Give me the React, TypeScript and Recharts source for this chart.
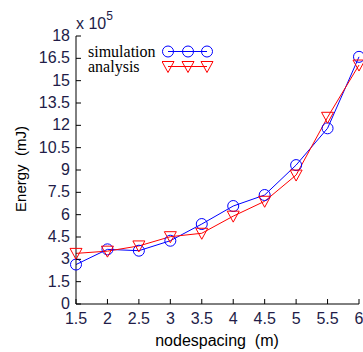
import React from 'react';
import { LineChart, Line, XAxis, YAxis } from 'recharts';

const spacing = [1.5, 2, 2.5, 3, 3.5, 4, 4.5, 5, 5.5, 6];
const simulation = [2.65, 3.67, 3.58, 4.25, 5.37, 6.58, 7.32, 9.33, 11.8, 16.6];
const analysis = [3.4, 3.55, 3.9, 4.52, 4.75, 5.9, 6.9, 8.66, 12.54, 16.05];
const xTicks = [1.5, 2, 2.5, 3, 3.5, 4, 4.5, 5, 5.5, 6];
const yTicks = [0, 1.5, 3, 4.5, 6, 7.5, 9, 10.5, 12, 13.5, 15, 16.5, 18];
const seriesNames = ['simulation', 'analysis'];

const data = spacing.map((s, i) => ({ s, simulation: simulation[i], analysis: analysis[i] }));

const TICK_COLOR = '#221c48';
const FONT = 'Arial, "Liberation Sans", sans-serif';

const Circle = (props: any) => {
  const { cx, cy } = props;
  if (cx == null || cy == null) return null;
  return <circle cx={cx} cy={cy} r={5.5} stroke="#0000ff" strokeWidth={1} fill="none" />;
};

const TriDown = (props: any) => {
  const { cx, cy } = props;
  if (cx == null || cy == null) return null;
  return (
    <path
      d={`M${cx - 6},${cy - 5}L${cx + 6},${cy - 5}L${cx},${cy + 6}Z`}
      stroke="#ff0000"
      strokeWidth={1}
      fill="none"
    />
  );
};

const BottomTick = (props: any) => {
  const { x, y, payload } = props;
  return (
    <g>
      <line x1={x} y1={y} x2={x} y2={y - 5} stroke="#000" />
      <text x={x} y={y + 20} textAnchor="middle" fontSize={16} fontFamily={FONT} fill={TICK_COLOR}>
        {payload.value}
      </text>
    </g>
  );
};

const TopTick = (props: any) => {
  const { x, y } = props;
  return <line x1={x} y1={y} x2={x} y2={y + 5} stroke="#000" />;
};

const LeftTick = (props: any) => {
  const { x, y, payload } = props;
  return (
    <g>
      <line x1={x} y1={y} x2={x + 5} y2={y} stroke="#000" />
      <text x={x - 6} y={y + 5} textAnchor="end" fontSize={16} fontFamily={FONT} fill={TICK_COLOR}>
        {payload.value}
      </text>
    </g>
  );
};

const RightTick = (props: any) => {
  const { x, y } = props;
  return <line x1={x} y1={y} x2={x - 5} y2={y} stroke="#000" />;
};

const LegendBox = () => (
  <div
    style={{
      position: 'absolute',
      left: 88,
      top: 44,
      fontFamily: '"Liberation Serif", "Times New Roman", serif',
      fontSize: 16,
      lineHeight: '15px',
      color: '#000',
    }}
  >
    {seriesNames.map(name => {
      const isSim = name === 'simulation';
      return (
        <div key={name} style={{ display: 'flex', alignItems: 'center', height: 15 }}>
          <span style={{ display: 'inline-block', width: 74, height: 15, lineHeight: '15px' }}>{name}</span>
          <svg width={52} height={15}>
            <line x1={6} y1={7.5} x2={45} y2={7.5} stroke={isSim ? '#0000ff' : '#ff0000'} />
            {[6, 26, 45].map(cx =>
              isSim ? <Circle key={cx} cx={cx} cy={7.5} /> : <TriDown key={cx} cx={cx} cy={7.5} />
            )}
          </svg>
        </div>
      );
    })}
  </div>
);

export default function App() {
  return (
    <div style={{ position: 'absolute', left: 0, top: 0, width: 363, height: 352, background: '#fff' }}>
      <LineChart width={363} height={352} data={data} margin={{ top: 36, right: 4, bottom: 18, left: 36 }}>
        <XAxis
          dataKey="s"
          type="number"
          domain={[1.5, 6]}
          ticks={xTicks}
          height={30}
          tickSize={0}
          tickMargin={0}
          tick={<BottomTick />}
          axisLine={{ stroke: '#000' }}
          interval={0}
        />
        <XAxis
          xAxisId="top"
          dataKey="s"
          type="number"
          orientation="top"
          domain={[1.5, 6]}
          ticks={xTicks}
          height={0}
          tickSize={0}
          tickMargin={0}
          tick={<TopTick />}
          axisLine={{ stroke: '#000' }}
          interval={0}
        />
        <YAxis
          type="number"
          domain={[0, 18]}
          ticks={yTicks}
          width={40}
          tickSize={0}
          tickMargin={0}
          tick={<LeftTick />}
          axisLine={{ stroke: '#000' }}
          interval={0}
        />
        <YAxis
          yAxisId="right"
          type="number"
          orientation="right"
          domain={[0, 18]}
          ticks={yTicks}
          width={0}
          tickSize={0}
          tickMargin={0}
          tick={<RightTick />}
          axisLine={{ stroke: '#000' }}
          interval={0}
        />
        <Line
          dataKey="simulation"
          name="simulation"
          stroke="#0000ff"
          strokeWidth={1}
          dot={<Circle />}
          activeDot={false}
          isAnimationActive={false}
        />
        <Line
          dataKey="analysis"
          name="analysis"
          stroke="#ff0000"
          strokeWidth={1}
          dot={<TriDown />}
          activeDot={false}
          isAnimationActive={false}
        />
      </LineChart>
      <LegendBox />
      <div style={{ position: 'absolute', left: 76, top: 10, fontFamily: FONT, fontSize: 16, lineHeight: '18px', color: TICK_COLOR, whiteSpace: 'nowrap' }}>
        x 10<sup style={{ fontSize: 12, position: 'relative', top: -3 }}>5</sup>
      </div>
      <div
        style={{
          position: 'absolute',
          left: 20,
          top: 169,
          transform: 'translate(-50%, -50%) rotate(-90deg)',
          fontFamily: FONT,
          fontSize: 15,
          color: '#000',
          whiteSpace: 'pre',
        }}
      >
        {'Energy  (mJ)'}
      </div>
      <div
        style={{
          position: 'absolute',
          left: 217,
          top: 341,
          transform: 'translate(-50%, -50%)',
          fontFamily: FONT,
          fontSize: 16,
          color: '#000',
          whiteSpace: 'pre',
        }}
      >
        {'nodespacing  (m)'}
      </div>
    </div>
  );
}
